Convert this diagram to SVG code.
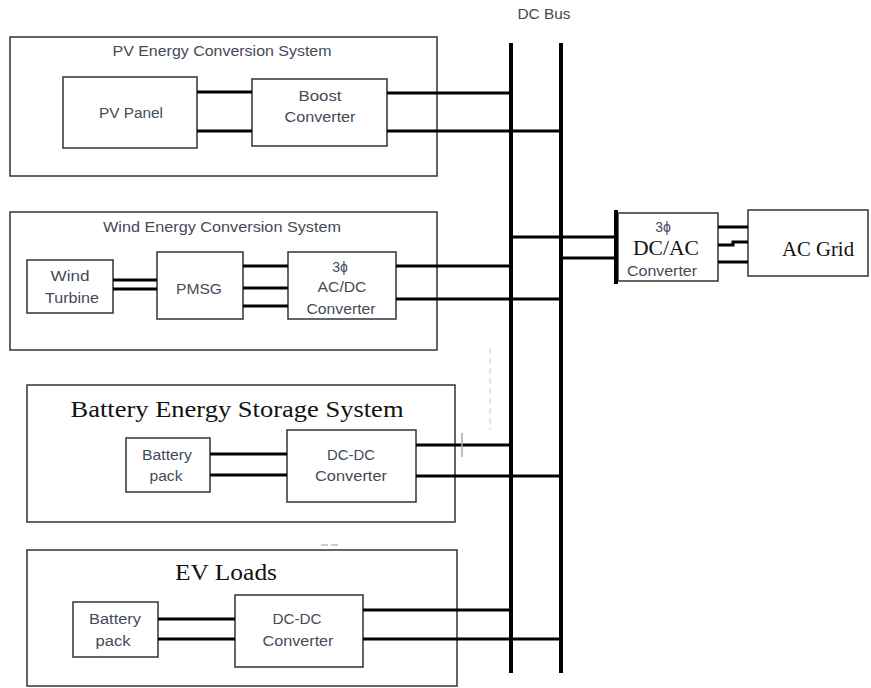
<svg xmlns="http://www.w3.org/2000/svg" width="871" height="688" viewBox="0 0 871 688">
<style>
.box{fill:#fff;stroke:#333;stroke-width:1.5}
.bus{stroke:#000;stroke-width:4;fill:none}
.wire{stroke:#000;stroke-width:3;fill:none}
.lbl{font-family:"Liberation Sans",Arial,sans-serif;font-size:14px;fill:#444a58;text-anchor:middle}
.ser{font-family:"Liberation Serif","Times New Roman",serif;fill:#111;text-anchor:middle}
.faint{stroke:#aaa;stroke-width:1.5;fill:none}
</style>
<rect width="871" height="688" fill="#fff"/>

<g id="pv-system">
<rect class="box" x="10" y="37" width="427" height="139"/>
<text class="lbl" x="222" y="56" font-size="13" textLength="219" lengthAdjust="spacingAndGlyphs">PV Energy Conversion System</text>
</g>
<g id="pv-panel">
<rect class="box" x="63" y="77" width="134" height="71"/>
<text class="lbl" x="131" y="118" textLength="64" lengthAdjust="spacingAndGlyphs">PV Panel</text>
</g>
<g id="boost">
<rect class="box" x="252" y="79" width="135" height="67"/>
<text class="lbl" x="320" y="101" textLength="43" lengthAdjust="spacingAndGlyphs">Boost</text>
<text class="lbl" x="320" y="122" textLength="71" lengthAdjust="spacingAndGlyphs">Converter</text>
</g>

<g id="wind-system">
<rect class="box" x="10" y="212" width="427" height="138"/>
<text class="lbl" x="222" y="232" font-size="13" textLength="238" lengthAdjust="spacingAndGlyphs">Wind Energy Conversion System</text>
</g>
<g id="wind-turbine">
<rect class="box" x="27" y="260" width="86" height="53"/>
<text class="lbl" x="70" y="281" textLength="39" lengthAdjust="spacingAndGlyphs">Wind</text>
<text class="lbl" x="72" y="303" textLength="54" lengthAdjust="spacingAndGlyphs">Turbine</text>
</g>
<g id="pmsg">
<rect class="box" x="157" y="252" width="86" height="67"/>
<text class="lbl" x="199" y="294" textLength="46" lengthAdjust="spacingAndGlyphs">PMSG</text>
</g>
<g id="acdc">
<rect class="box" x="288" y="252" width="108" height="67"/>
<text class="lbl" x="340" y="272">3ϕ</text>
<text class="lbl" x="342" y="292" textLength="49" lengthAdjust="spacingAndGlyphs">AC/DC</text>
<text class="lbl" x="341" y="314" textLength="69" lengthAdjust="spacingAndGlyphs">Converter</text>
</g>

<g id="bess-system">
<rect class="box" x="27" y="385" width="428" height="137"/>
<text class="ser" x="237" y="417" font-size="23" textLength="333" lengthAdjust="spacingAndGlyphs">Battery Energy Storage System</text>
</g>
<g id="bess-battery">
<rect class="box" x="126" y="438" width="84" height="54"/>
<text class="lbl" x="167" y="460" textLength="50" lengthAdjust="spacingAndGlyphs">Battery</text>
<text class="lbl" x="166" y="481" textLength="33" lengthAdjust="spacingAndGlyphs">pack</text>
</g>
<g id="bess-dcdc">
<rect class="box" x="287" y="430" width="129" height="72"/>
<text class="lbl" x="351" y="460" textLength="48" lengthAdjust="spacingAndGlyphs">DC-DC</text>
<text class="lbl" x="351" y="481" textLength="72" lengthAdjust="spacingAndGlyphs">Converter</text>
</g>

<g id="ev-system">
<rect class="box" x="27" y="550" width="430" height="136"/>
<text class="ser" x="226" y="580" font-size="23" textLength="102" lengthAdjust="spacingAndGlyphs">EV Loads</text>
</g>
<g id="ev-battery">
<rect class="box" x="73" y="602" width="85" height="55"/>
<text class="lbl" x="115" y="624" textLength="52" lengthAdjust="spacingAndGlyphs">Battery</text>
<text class="lbl" x="113" y="646" textLength="35" lengthAdjust="spacingAndGlyphs">pack</text>
</g>
<g id="ev-dcdc">
<rect class="box" x="235" y="595" width="128" height="72"/>
<text class="lbl" x="297" y="624" textLength="49" lengthAdjust="spacingAndGlyphs">DC-DC</text>
<text class="lbl" x="298" y="646" textLength="71" lengthAdjust="spacingAndGlyphs">Converter</text>
</g>

<g id="dcac">
<rect class="box" x="618" y="213" width="100" height="68"/>
<text class="lbl" x="663" y="232" font-size="11">3ϕ</text>
<text class="ser" x="666" y="255" font-size="21" textLength="66" lengthAdjust="spacingAndGlyphs">DC/AC</text>
<text class="lbl" x="662" y="276" font-size="11" textLength="70" lengthAdjust="spacingAndGlyphs">Converter</text>
</g>
<g id="ac-grid">
<rect class="box" x="748" y="210" width="120" height="66"/>
<text class="ser" x="818" y="256" font-size="21" textLength="72" lengthAdjust="spacingAndGlyphs">AC Grid</text>
</g>

<g id="dc-bus">
<text class="lbl" x="544" y="19" font-size="13" textLength="53" lengthAdjust="spacingAndGlyphs">DC Bus</text>
<line class="bus" x1="511" y1="43" x2="511" y2="673"/>
<line class="bus" x1="561" y1="43" x2="561" y2="673"/>
</g>

<g id="connectors">
<line class="wire" x1="197" y1="92" x2="252" y2="92"/>
<line class="wire" x1="197" y1="131" x2="252" y2="131"/>
<line class="wire" x1="387" y1="93" x2="511" y2="93"/>
<line class="wire" x1="387" y1="131" x2="561" y2="131"/>

<line class="wire" x1="113" y1="280" x2="157" y2="280"/>
<line class="wire" x1="113" y1="289" x2="157" y2="289"/>
<line class="wire" x1="243" y1="266" x2="288" y2="266"/>
<line class="wire" x1="243" y1="288" x2="288" y2="288"/>
<line class="wire" x1="243" y1="306" x2="288" y2="306"/>
<line class="wire" x1="396" y1="266" x2="511" y2="266"/>
<line class="wire" x1="396" y1="299" x2="561" y2="299"/>

<line class="wire" x1="511" y1="237" x2="616" y2="237"/>
<line class="wire" x1="561" y1="258" x2="616" y2="258"/>
<line class="bus" x1="616" y1="210" x2="616" y2="284"/>
<line class="wire" x1="718" y1="227" x2="748" y2="227"/>
<polyline class="wire" points="718,245 733,245 733,242 748,242"/>
<line class="wire" x1="718" y1="262" x2="748" y2="262"/>

<line class="wire" x1="210" y1="454" x2="287" y2="454"/>
<line class="wire" x1="210" y1="475" x2="287" y2="475"/>
<line class="wire" x1="416" y1="445" x2="511" y2="445"/>
<line class="wire" x1="416" y1="476" x2="561" y2="476"/>

<line class="wire" x1="158" y1="619" x2="235" y2="619"/>
<line class="wire" x1="158" y1="639" x2="235" y2="639"/>
<line class="wire" x1="363" y1="610" x2="511" y2="610"/>
<line class="wire" x1="363" y1="639" x2="561" y2="639"/>

<line class="faint" x1="462" y1="433" x2="462" y2="457"/>
<line x1="490" y1="348" x2="490" y2="430" stroke="#ccc" stroke-width="1" stroke-dasharray="6,4"/>
<line x1="321" y1="545" x2="338" y2="545" stroke="#999" stroke-width="1" stroke-dasharray="7,3"/>
</g>
</svg>
